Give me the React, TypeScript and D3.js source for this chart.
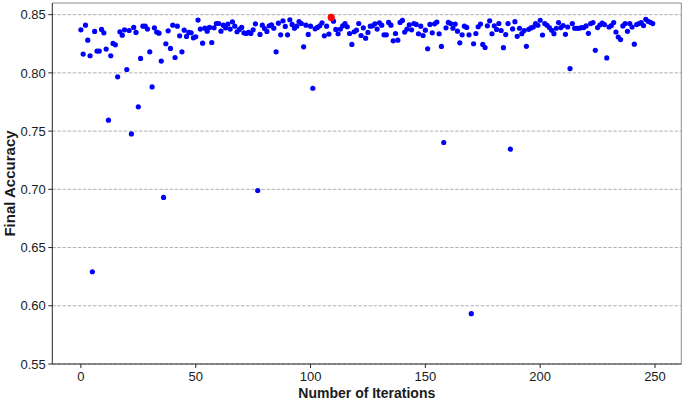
import React from "react";
import * as d3 from "d3";

// Final accuracy per iteration (iterations 0..249)
const accuracy000to049 = [
  0.837, 0.8161, 0.841, 0.8281, 0.8147, 0.6292, 0.8356, 0.8187, 0.8187, 0.8373,
  0.8344, 0.8204, 0.7594, 0.8147, 0.8253, 0.8241, 0.7966, 0.8353, 0.8324, 0.837,
  0.8029, 0.8364, 0.7476, 0.839, 0.8347, 0.7708, 0.8124, 0.8401, 0.8401, 0.8376,
  0.8181, 0.7879, 0.8387, 0.835, 0.8341, 0.8101, 0.693, 0.825, 0.8361, 0.821,
  0.841, 0.8132, 0.8401, 0.8318, 0.8181, 0.8367, 0.8313, 0.8347, 0.8344, 0.8301,
];
const accuracy050to099 = [
  0.831, 0.8453, 0.8376, 0.8255, 0.8384, 0.8358, 0.839, 0.8261, 0.8387, 0.8424,
  0.8424, 0.8358, 0.841, 0.8387, 0.8419, 0.8376, 0.8439, 0.8401, 0.8353, 0.8373,
  0.839, 0.8344, 0.8338, 0.8347, 0.8338, 0.837, 0.8421, 0.699, 0.833, 0.841,
  0.8381, 0.8356, 0.8404, 0.8413, 0.8384, 0.8181, 0.8427, 0.8327, 0.8447, 0.8399,
  0.8327, 0.8456, 0.8416, 0.8384, 0.8401, 0.8441, 0.8424, 0.8224, 0.841, 0.833,
];
const accuracy100to149 = [
  0.8401, 0.7868, 0.8378, 0.839, 0.8404, 0.843, 0.8318, 0.8401, 0.8333, 0.8476,
  0.8444, 0.8373, 0.8336, 0.8376, 0.8404, 0.8424, 0.8396, 0.8338, 0.8244, 0.8353,
  0.8367, 0.8424, 0.8321, 0.8387, 0.8298, 0.8347, 0.8401, 0.8404, 0.8421, 0.8376,
  0.843, 0.841, 0.8327, 0.8327, 0.8433, 0.841, 0.8275, 0.8338, 0.8281, 0.8433,
  0.845, 0.835, 0.8376, 0.8413, 0.837, 0.8424, 0.8416, 0.8336, 0.8401, 0.8321,
];
const accuracy150to199 = [
  0.8367, 0.8207, 0.8416, 0.8344, 0.8421, 0.8436, 0.8336, 0.8227, 0.7402, 0.8387,
  0.8433, 0.8424, 0.8384, 0.8419, 0.8358, 0.8258, 0.8327, 0.8401, 0.839, 0.8327,
  0.5932, 0.825, 0.8338, 0.8396, 0.8419, 0.8244, 0.8218, 0.8404, 0.8447, 0.8336,
  0.8404, 0.8373, 0.8424, 0.8364, 0.8216, 0.8329, 0.8423, 0.7345, 0.8377, 0.844,
  0.8314, 0.8383, 0.8337, 0.8363, 0.8228, 0.8374, 0.8386, 0.8394, 0.8423, 0.8409,
];
const accuracy200to249 = [
  0.8452, 0.8325, 0.8423, 0.8409, 0.8389, 0.8366, 0.8337, 0.8383, 0.8432, 0.8389,
  0.8406, 0.8331, 0.8394, 0.8037, 0.8423, 0.8383, 0.8383, 0.8383, 0.8389, 0.8389,
  0.8403, 0.834, 0.8423, 0.8432, 0.8194, 0.8389, 0.8411, 0.8428, 0.8415, 0.8128,
  0.8394, 0.8406, 0.8432, 0.8351, 0.8308, 0.8286, 0.8403, 0.8423, 0.8357, 0.8423,
  0.8394, 0.8246, 0.8415, 0.8423, 0.8432, 0.8406, 0.846, 0.8443, 0.8434, 0.8423,
];

const xTicks = [0, 50, 100, 150, 200, 250];
const yTicks = [0.55, 0.6, 0.65, 0.7, 0.75, 0.8, 0.85];
const xTitle = "Number of Iterations";
const yTitle = "Final Accuracy";

const W = 685;
const H = 401;
const M = { left: 52.3, right: 681.3, top: 3, bottom: 364 };

export default function App() {
  const accuracy = [
    ...accuracy000to049,
    ...accuracy050to099,
    ...accuracy100to149,
    ...accuracy150to199,
    ...accuracy200to249,
  ];
  const points = accuracy.map((v, i) => ({ iter: i, acc: v }));
  const best = points.reduce((a, b) => (b.acc > a.acc ? b : a), points[0]);

  const x = d3.scaleLinear().domain([-12.45, 261.45]).range([M.left, M.right]);
  const y = d3.scaleLinear().domain([0.55, 0.86]).range([M.bottom, M.top]);

  const font = "'Liberation Sans', Arial, sans-serif";

  return (
    <svg
      width={W}
      height={H}
      style={{ position: "absolute", left: 0, top: 0, background: "#fff" }}
      fontFamily={font}
    >
      {/* grid */}
      {yTicks.map((t) => (
        <line
          key={"g" + t}
          x1={M.left}
          x2={M.right}
          y1={y(t)}
          y2={y(t)}
          stroke="#b0b0b0"
          strokeWidth={1}
          strokeDasharray="3.5,1.6"
        />
      ))}
      {/* points */}
      {points.map((p) => (
        <circle key={p.iter} cx={x(p.iter)} cy={y(p.acc)} r={2.6} fill="#0000ff" />
      ))}
      <circle cx={x(best.iter)} cy={y(best.acc)} r={3.6} fill="#ff0000" />
      {/* frame */}
      <line x1={M.left} x2={M.right} y1={M.top} y2={M.top} stroke="#8c8c8c" strokeWidth={1} />
      <line x1={M.right} x2={M.right} y1={M.top} y2={M.bottom} stroke="#8c8c8c" strokeWidth={1} />
      <line x1={M.left} x2={M.left} y1={M.top} y2={M.bottom} stroke="#262626" strokeWidth={1} />
      <line x1={M.left} x2={M.right} y1={M.bottom} y2={M.bottom} stroke="#262626" strokeWidth={1} />
      {/* y ticks */}
      {yTicks.map((t) => (
        <g key={"y" + t}>
          <line x1={M.left - 4} x2={M.left} y1={y(t)} y2={y(t)} stroke="#262626" strokeWidth={1} />
          <text
            x={M.left - 6.5}
            y={y(t)}
            dy="0.36em"
            textAnchor="end"
            fontSize={13}
            fill="#1a1a1a"
          >
            {t.toFixed(2)}
          </text>
        </g>
      ))}
      {/* x ticks */}
      {xTicks.map((t) => (
        <g key={"x" + t}>
          <line x1={x(t)} x2={x(t)} y1={M.bottom} y2={M.bottom + 4} stroke="#262626" strokeWidth={1} />
          <text x={x(t)} y={381} textAnchor="middle" fontSize={13} fill="#1a1a1a">
            {t}
          </text>
        </g>
      ))}
      <text
        x={(M.left + M.right) / 2}
        y={398}
        textAnchor="middle"
        fontSize={14}
        fontWeight="bold"
        fill="#1a1a1a"
      >
        {xTitle}
      </text>
      <text
        transform={`translate(14.5, ${(M.top + M.bottom) / 2}) rotate(-90)`}
        textAnchor="middle"
        fontSize={15}
        fontWeight="bold"
        fill="#1a1a1a"
      >
        {yTitle}
      </text>
    </svg>
  );
}
